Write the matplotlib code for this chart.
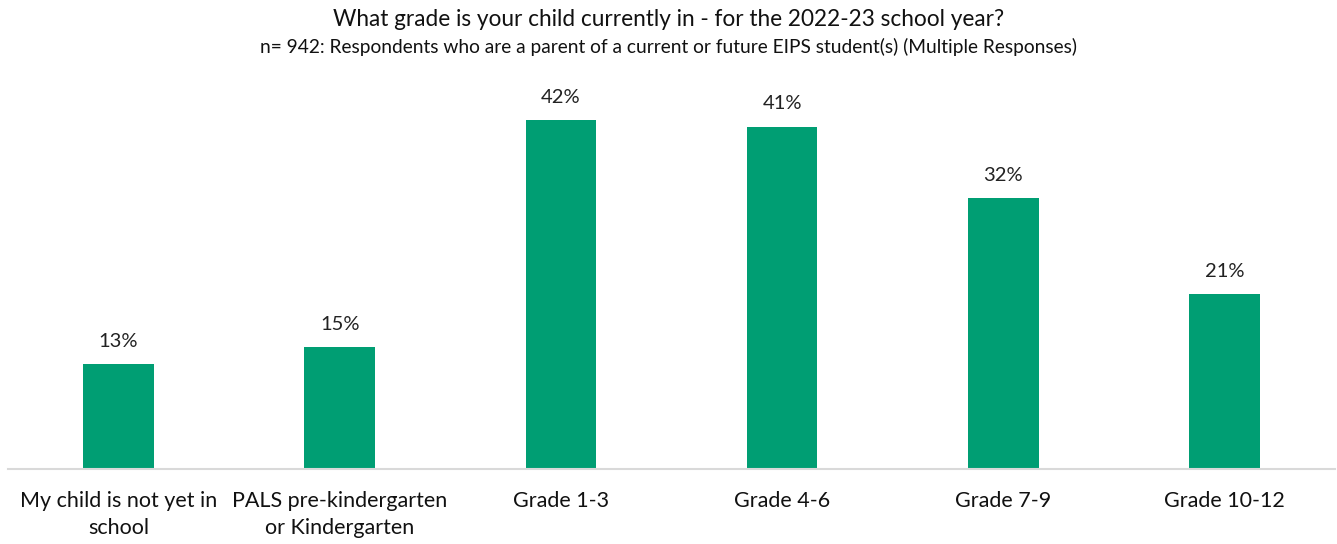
import matplotlib
matplotlib.use("Agg")
import matplotlib.pyplot as plt

plt.rcParams["font.family"] = ["Lato", "DejaVu Sans"]

categories = [
    "My child is not yet in\nschool",
    "PALS pre-kindergarten\nor Kindergarten",
    "Grade 1-3",
    "Grade 4-6",
    "Grade 7-9",
    "Grade 10-12",
]
values = [12.6, 14.6, 41.9, 41.1, 32.5, 21.0]

bar_color = "#009E73"

fig = plt.figure(figsize=(13.37, 5.44), dpi=100)
ax = fig.add_axes([8 / 1337, 75 / 544, 1327 / 1337, 416.5 / 544])

x = range(len(categories))
bars = ax.bar(x, values, width=0.32, color=bar_color)
for b, v in zip(bars, values):
    ax.text(b.get_x() + b.get_width() / 2, v + 1.7, f"{v:.0f}%",
            ha="center", va="bottom", fontsize=14.5, color="#222222")

ax.set_xlim(-0.5, len(categories) - 0.5)
ax.set_ylim(0, 50)
ax.set_xticks(list(x))
ax.set_xticklabels(categories, fontsize=15.5, color="#111111", linespacing=1.45)
ax.tick_params(axis="x", length=0, pad=16)
ax.set_yticks([])
for s in ["top", "right", "left"]:
    ax.spines[s].set_visible(False)
ax.spines["bottom"].set_color("#d9d9d9")
ax.spines["bottom"].set_linewidth(1.5)

fig.text(0.5, 1 - 20 / 544, "What grade is your child currently in - for the 2022-23 school year?",
         ha="center", va="center", fontsize=16.3, color="#111111")
fig.text(0.5, 1 - 47 / 544, "n= 942: Respondents who are a parent of a current or future EIPS student(s) (Multiple Responses)",
         ha="center", va="center", fontsize=13.8, color="#111111")

fig.savefig("out.png", dpi=100, facecolor="white")
